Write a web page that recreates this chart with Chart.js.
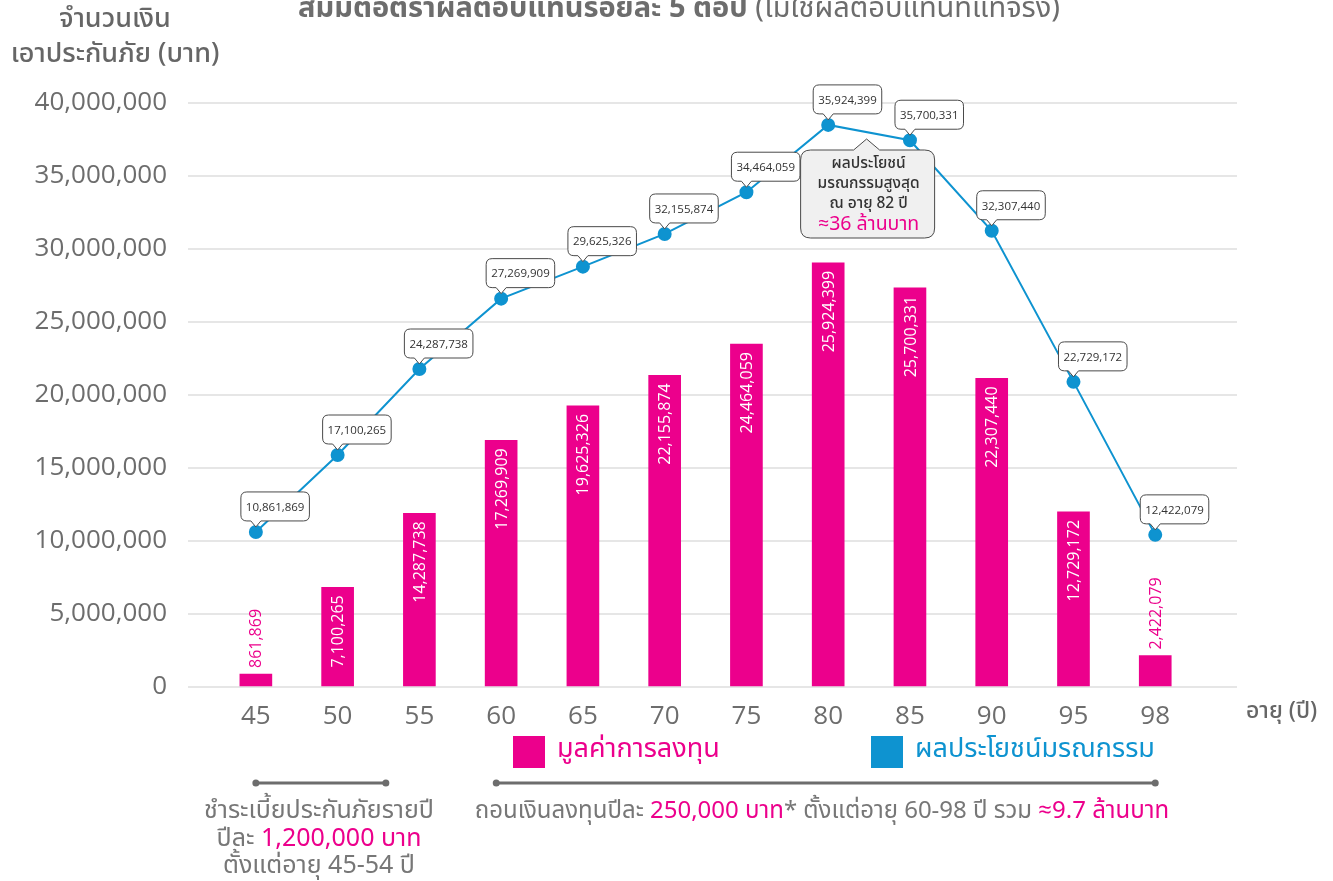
<!DOCTYPE html>
<html>
<head>
<meta charset="utf-8">
<script src="https://cdn.jsdelivr.net/npm/chart.js@4.4.1/dist/chart.umd.min.js"></script>
<style>
  html, body { margin: 0; padding: 0; background: #fff; }
  #wrap { width: 1333px; height: 881px; }
</style>
</head>
<body>
<div id="wrap"><canvas id="chart" width="1333" height="881"></canvas></div>
<script>
const ages = ["45", "50", "55", "60", "65", "70", "75", "80", "85", "90", "95", "98"];
// heights as drawn in the picture
const investValues  = [0.89e6, 6.83e6, 11.9e6, 16.9e6, 19.25e6, 21.35e6, 23.49e6, 29.05e6, 27.34e6, 21.14e6, 11.99e6, 2.15e6];
const benefitValues = [10.62e6, 15.89e6, 21.78e6, 26.6e6, 28.79e6, 31.03e6, 33.89e6, 38.5e6, 37.45e6, 31.25e6, 20.9e6, 10.42e6];
// printed labels
const investLabels  = ["861,869", "7,100,265", "14,287,738", "17,269,909", "19,625,326", "22,155,874",
                       "24,464,059", "25,924,399", "25,700,331", "22,307,440", "12,729,172", "2,422,079"];
const benefitLabels = ["10,861,869", "17,100,265", "24,287,738", "27,269,909", "29,625,326", "32,155,874",
                       "34,464,059", "35,924,399", "35,700,331", "32,307,440", "22,729,172", "12,422,079"];
const yTicks = [0, 5000000, 10000000, 15000000, 20000000, 25000000, 30000000, 35000000, 40000000];

const PINK = "#ec008c";
const BLUE = "#0e93d0";
const GREY = "#6d6d6d";
const THAI = "'Noto Sans Thai', 'Noto Sans', 'Open Sans', sans-serif";
const NUM = "'Open Sans', 'Noto Sans', sans-serif";

const fmt = v => Number(v).toLocaleString("en-US");

function drawRich(ctx, parts, cx, y, font) {
  ctx.font = font;
  const total = parts.reduce((s, p) => { ctx.font = p[2] || font; return s + ctx.measureText(p[0]).width; }, 0);
  let x = cx - total / 2;
  ctx.textAlign = "left";
  ctx.textBaseline = "middle";
  parts.forEach(p => {
    ctx.font = p[2] || font;
    ctx.fillStyle = p[1];
    ctx.fillText(p[0], x, y);
    x += ctx.measureText(p[0]).width;
  });
}

function bubble(ctx, text, px, py) {
  ctx.font = "11.5px " + NUM;
  const w = ctx.measureText(text).width + 10, h = 29, r = 6;
  const left = px - 15, bottom = py - 11, top = bottom - h;
  ctx.beginPath();
  ctx.moveTo(left + r, top);
  ctx.lineTo(left + w - r, top);
  ctx.quadraticCurveTo(left + w, top, left + w, top + r);
  ctx.lineTo(left + w, bottom - r);
  ctx.quadraticCurveTo(left + w, bottom, left + w - r, bottom);
  ctx.lineTo(px + 5, bottom);
  ctx.lineTo(px, py - 5);
  ctx.lineTo(px - 5, bottom);
  ctx.lineTo(left + r, bottom);
  ctx.quadraticCurveTo(left, bottom, left, bottom - r);
  ctx.lineTo(left, top + r);
  ctx.quadraticCurveTo(left, top, left + r, top);
  ctx.closePath();
  ctx.fillStyle = "#fff";
  ctx.fill();
  ctx.strokeStyle = "#4a4a4a";
  ctx.lineWidth = 1;
  ctx.stroke();
  ctx.fillStyle = "#333";
  ctx.textAlign = "left";
  ctx.textBaseline = "middle";
  ctx.fillText(text, left + 5, top + h / 2 + 1);
}

function rangeLine(ctx, x1, x2, y) {
  ctx.strokeStyle = GREY;
  ctx.lineWidth = 3;
  ctx.beginPath();
  ctx.moveTo(x1, y);
  ctx.lineTo(x2, y);
  ctx.stroke();
  ctx.fillStyle = GREY;
  [x1, x2].forEach(x => { ctx.beginPath(); ctx.arc(x, y, 3.5, 0, Math.PI * 2); ctx.fill(); });
}

const extras = {
  id: "extras",
  afterDatasetsDraw(chart) {
    const ctx = chart.ctx;
    ctx.save();
    // bar labels
    chart.getDatasetMeta(0).data.forEach((el, i) => {
      ctx.save();
      ctx.font = "16px " + NUM;
      ctx.textBaseline = "middle";
      if (investValues[i] < 4000000) {
        ctx.translate(el.x, el.y - 6);
        ctx.rotate(-Math.PI / 2);
        ctx.textAlign = "left";
        ctx.fillStyle = PINK;
      } else {
        ctx.translate(el.x, el.y + 8);
        ctx.rotate(-Math.PI / 2);
        ctx.textAlign = "right";
        ctx.fillStyle = "#fff";
      }
      ctx.fillText(investLabels[i], 0, 1);
      ctx.restore();
    });
    // line bubbles
    chart.getDatasetMeta(1).data.forEach((el, i) => bubble(ctx, benefitLabels[i], el.x, el.y));

    // callout for the peak
    const xs = chart.scales.x;
    const tipX = xs.getPixelForValue(7.47), tipY = 139;
    const bl = tipX - 66, br = tipX + 68, bt = tipY + 11, bb = tipY + 99, r = 10;
    ctx.beginPath();
    ctx.moveTo(bl + r, bt);
    ctx.lineTo(tipX - 13, bt);
    ctx.lineTo(tipX, tipY);
    ctx.lineTo(tipX + 13, bt);
    ctx.lineTo(br - r, bt);
    ctx.quadraticCurveTo(br, bt, br, bt + r);
    ctx.lineTo(br, bb - r);
    ctx.quadraticCurveTo(br, bb, br - r, bb);
    ctx.lineTo(bl + r, bb);
    ctx.quadraticCurveTo(bl, bb, bl, bb - r);
    ctx.lineTo(bl, bt + r);
    ctx.quadraticCurveTo(bl, bt, bl + r, bt);
    ctx.closePath();
    ctx.fillStyle = "#f0f0f0";
    ctx.fill();
    ctx.strokeStyle = "#4a4a4a";
    ctx.lineWidth = 1;
    ctx.stroke();
    const cx = (bl + br) / 2 + 1;
    ctx.textAlign = "center";
    ctx.textBaseline = "middle";
    ctx.fillStyle = "#333";
    ctx.font = "500 15.5px " + THAI;
    ctx.fillText("ผลประโยชน์", cx, tipY + 26);
    ctx.fillText("มรณกรรมสูงสุด", cx, tipY + 46);
    ctx.fillText("ณ อายุ 82 ปี", cx, tipY + 66);
    ctx.fillStyle = PINK;
    ctx.font = "19.5px " + THAI;
    ctx.fillText("≈36 ล้านบาท", cx, tipY + 87);
    ctx.restore();
  },
  afterDraw(chart) {
    const ctx = chart.ctx;
    const xs = chart.scales.x;
    ctx.save();
    // title (cut off at the top edge)
    drawRich(ctx, [["สมมติอัตราผลตอบแทนร้อยละ 5 ต่อปี", GREY, "bold 29px " + THAI],
                   [" (ไม่ใช่ผลตอบแทนที่แท้จริง)", GREY, "29px " + THAI]], 679, 11, "29px " + THAI);
    // y axis title
    ctx.fillStyle = "#666";
    ctx.textAlign = "center";
    ctx.textBaseline = "middle";
    ctx.font = "500 27px " + THAI;
    ctx.fillText("จำนวนเงิน", 115, 22);
    ctx.fillText("เอาประกันภัย (บาท)", 115, 57);
    // x axis title
    ctx.textAlign = "left";
    ctx.font = "500 23px " + THAI;
    ctx.fillText("อายุ (ปี)", 1246, 713);

    // legend
    const ds = chart.data.datasets;
    [[513, ds[0]], [871, ds[1]]].forEach(([x, d]) => {
      ctx.fillStyle = d.legendColor;
      ctx.fillRect(x, 736, 32, 32);
      ctx.font = "27px " + THAI;
      ctx.textAlign = "left";
      ctx.textBaseline = "middle";
      ctx.fillText(d.label, x + 44, 752);
    });

    // bottom notes
    rangeLine(ctx, xs.getPixelForValue(0), xs.getPixelForValue(1.59), 783);
    rangeLine(ctx, xs.getPixelForValue(2.94), xs.getPixelForValue(11), 783);
    const f = "25px " + THAI;
    drawRich(ctx, [["ชำระเบี้ยประกันภัยรายปี", "#777"]], 319, 813, f);
    drawRich(ctx, [["ปีละ ", "#777"], ["1,200,000 บาท", PINK]], 319, 841, f);
    drawRich(ctx, [["ตั้งแต่อายุ 45-54 ปี", "#777"]], 319, 868, f);
    drawRich(ctx, [["ถอนเงินลงทุนปีละ ", "#777"], ["250,000 บาท", PINK], ["* ตั้งแต่อายุ 60-98 ปี รวม ", "#777"],
                   ["≈9.7 ล้านบาท", PINK]], 822, 813, "24px " + THAI);
    ctx.restore();
  }
};

new Chart(document.getElementById("chart"), {
  type: "bar",
  data: {
    datasets: [
      {
        type: "bar",
        label: "มูลค่าการลงทุน",
        data: investValues.map((v, i) => ({x: i, y: v})),
        backgroundColor: PINK,
        legendColor: PINK,
        barThickness: 32,
        order: 2,
      },
      {
        type: "line",
        label: "ผลประโยชน์มรณกรรม",
        data: benefitValues.map((v, i) => ({x: i, y: v})),
        borderColor: BLUE,
        backgroundColor: BLUE,
        legendColor: BLUE,
        borderWidth: 2,
        pointRadius: 6,
        pointHoverRadius: 6,
        tension: 0,
        order: 1,
      },
    ],
  },
  options: {
    responsive: false,
    animation: false,
    layout: {padding: {top: 103, right: 96, left: 0, bottom: 0}},
    plugins: {legend: {display: false}, tooltip: {enabled: false}},
    scales: {
      x: {
        type: "linear",
        offset: false,
        min: -0.83,
        max: 12,
        grid: {display: false},
        border: {display: false},
        afterFit: s => { s.height = 194; },
        afterBuildTicks: s => { s.ticks = ages.map((a, i) => ({value: i})); },
        ticks: {
          padding: 6,
          color: GREY,
          font: {family: NUM, size: 26},
          maxRotation: 0,
          autoSkip: false,
          callback: v => ages[v],
        },
      },
      y: {
        min: 0,
        max: 40000000,
        afterFit: s => { s.width = 188; },
        afterBuildTicks: s => { s.ticks = yTicks.map(v => ({value: v})); },
        grid: {color: "#e6e6e6", lineWidth: 2, drawTicks: false},
        border: {display: false},
        ticks: {
          padding: 21,
          color: GREY,
          font: {family: NUM, size: 26},
          callback: v => fmt(v),
        },
      },
    },
  },
  plugins: [extras],
});
</script>
</body>
</html>
